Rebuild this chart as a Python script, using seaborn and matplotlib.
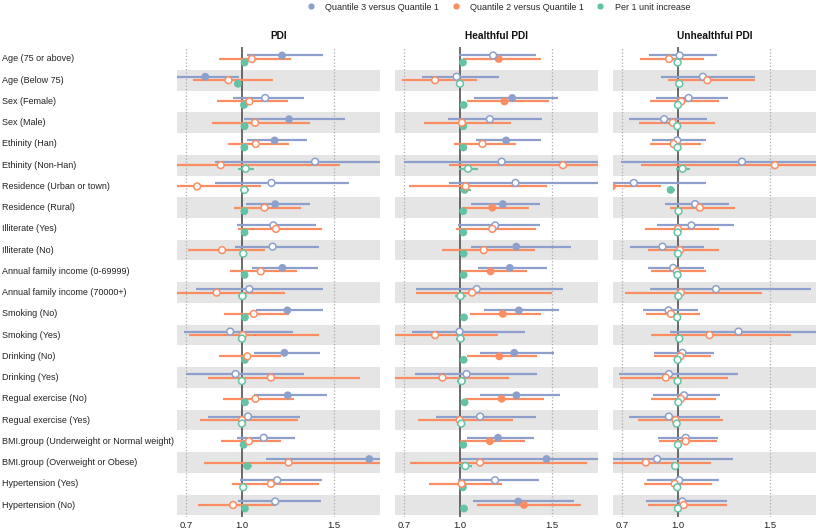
import numpy as np
import pandas as pd
import matplotlib
matplotlib.use('Agg')
import matplotlib.pyplot as plt
import matplotlib.transforms as mtransforms
from matplotlib.lines import Line2D
import seaborn as sns

# row labels (top to bottom)
labels = ['Age (75 or above)', 'Age (Below 75)', 'Sex (Female)', 'Sex (Male)',
          'Ethinity (Han)', 'Ethinity (Non-Han)', 'Residence (Urban or town)',
          'Residence (Rural)', 'Illiterate (Yes)', 'Illiterate (No)',
          'Annual family income (0-69999)', 'Annual family income (70000+)',
          'Smoking (No)', 'Smoking (Yes)', 'Drinking (No)', 'Drinking (Yes)',
          'Regual exercise (No)', 'Regual exercise (Yes)',
          'BMI.group (Underweight or Normal weight)', 'BMI.group (Overweight or Obese)',
          'Hypertension (Yes)', 'Hypertension (No)']
panels = ['PDI', 'Healthful PDI', 'Unhealthful PDI']
series = ['Quantile 3 versus Quantile 1', 'Quantile 2 versus Quantile 1', 'Per 1 unit increase']

# ---- PDI ----
pdi_q3_est = [1.219, 0.803, 1.128, 1.257, 1.179, 1.398, 1.162, 1.182, 1.172, 1.168, 1.221,
              1.042, 1.248, 0.938, 1.232, 0.967, 1.250, 1.035, 1.120, 1.692, 1.193, 1.182]
pdi_q3_lo = [1.031, 0.620, 0.954, 1.015, 1.029, 0.854, 0.854, 1.024, 0.976, 0.962, 1.057,
             0.752, 1.077, 0.690, 1.066, 0.699, 1.068, 0.816, 0.974, 1.133, 0.993, 0.978]
pdi_q3_hi = [1.443, 0.985, 1.338, 1.560, 1.356, 2.000, 1.582, 1.372, 1.405, 1.420, 1.414,
             1.443, 1.443, 1.281, 1.425, 1.339, 1.465, 1.314, 1.292, 2.300, 1.438, 1.432]
pdi_q2_est = [1.055, 0.929, 1.042, 1.073, 1.077, 0.887, 0.759, 1.124, 1.186, 0.894, 1.104,
              0.865, 1.066, 1.007, 1.031, 1.159, 1.075, 1.002, 1.040, 1.255, 1.159, 0.954]
pdi_q2_lo = [0.876, 0.739, 0.867, 0.839, 0.925, 0.600, 0.600, 0.958, 0.980, 0.710, 0.938,
             0.600, 0.905, 0.713, 0.876, 0.818, 0.900, 0.774, 0.889, 0.796, 0.947, 0.766]
pdi_q2_hi = [1.268, 1.170, 1.252, 1.370, 1.255, 1.535, 1.104, 1.321, 1.438, 1.126, 1.301,
             1.235, 1.255, 1.422, 1.214, 1.640, 1.285, 1.307, 1.215, 2.000, 1.420, 1.186]
pdi_u_est = [1.016, 0.980, 1.013, 1.016, 1.015, 1.022, 1.015, 1.015, 1.016, 1.009, 1.016,
             1.005, 1.018, 1.002, 1.018, 1.002, 1.018, 1.002, 1.011, 1.031, 1.009, 1.018]
pdi_u_lo = [1.006, 0.970, 1.004, 1.006, 1.006, 0.980, 0.990, 1.006, 1.006, 0.997, 1.006,
            0.980, 1.007, 0.990, 1.007, 0.990, 1.007, 0.995, 1.002, 1.009, 0.998, 1.007]
pdi_u_hi = [1.026, 0.990, 1.022, 1.026, 1.024, 1.068, 1.040, 1.024, 1.026, 1.021, 1.026,
            1.027, 1.029, 1.014, 1.029, 1.014, 1.029, 1.009, 1.020, 1.058, 1.020, 1.029]

# ---- Healthful PDI ----
hpdi_q3_est = [1.182, 0.984, 1.285, 1.164, 1.252, 1.228, 1.303, 1.234, 1.193, 1.307, 1.272,
               1.093, 1.321, 1.000, 1.296, 1.038, 1.308, 1.111, 1.208, 1.471, 1.192, 1.318]
hpdi_q3_lo = [0.995, 0.797, 1.078, 0.938, 1.088, 0.699, 0.942, 1.062, 0.993, 1.062, 1.099,
              0.766, 1.133, 0.741, 1.113, 0.759, 1.108, 0.870, 1.042, 1.005, 0.991, 1.073]
hpdi_q3_hi = [1.412, 1.215, 1.533, 1.445, 1.443, 2.100, 1.900, 1.436, 1.434, 1.606, 1.476,
              1.562, 1.538, 1.352, 1.509, 1.422, 1.544, 1.416, 1.401, 2.200, 1.432, 1.619]
hpdi_q2_est = [1.212, 0.867, 1.243, 1.013, 1.124, 1.560, 1.033, 1.177, 1.177, 1.131, 1.168,
               1.068, 1.234, 0.867, 1.215, 0.907, 1.228, 1.000, 1.164, 1.111, 1.011, 1.349]
hpdi_q2_lo = [1.018, 0.690, 1.040, 0.805, 0.971, 0.945, 0.726, 1.011, 0.980, 0.907, 1.005,
              0.763, 1.058, 0.600, 1.040, 0.600, 1.036, 0.776, 1.003, 0.730, 0.832, 1.097]
hpdi_q2_hi = [1.442, 1.093, 1.487, 1.276, 1.305, 2.300, 1.471, 1.374, 1.416, 1.410, 1.367,
              1.500, 1.443, 1.208, 1.422, 1.270, 1.456, 1.290, 1.354, 1.693, 1.228, 1.657]
hpdi_u_est = [1.018, 1.002, 1.022, 1.020, 1.020, 1.046, 1.027, 1.020, 1.020, 1.022, 1.022,
              1.005, 1.024, 1.005, 1.022, 1.011, 1.027, 1.009, 1.020, 1.031, 1.018, 1.024]
hpdi_u_lo = [1.008, 0.992, 1.012, 1.010, 1.010, 0.999, 1.003, 1.010, 1.010, 1.012, 1.012,
             0.976, 1.014, 0.978, 1.012, 0.985, 1.015, 0.988, 1.010, 0.998, 1.008, 1.014]
hpdi_u_hi = [1.028, 1.012, 1.032, 1.030, 1.030, 1.099, 1.060, 1.030, 1.030, 1.032, 1.032,
             1.035, 1.034, 1.032, 1.032, 1.037, 1.040, 1.030, 1.030, 1.066, 1.028, 1.034]

# ---- Unhealthful PDI ----
updi_q3_est = [1.011, 1.137, 1.060, 0.927, 0.998, 1.349, 0.763, 1.095, 1.075, 0.918, 0.976,
               1.208, 0.951, 1.330, 1.026, 0.953, 1.035, 0.953, 1.044, 0.889, 1.009, 1.026]
updi_q3_lo = [0.847, 0.912, 0.885, 0.739, 0.863, 0.693, 0.600, 0.934, 0.887, 0.741, 0.838,
              0.849, 0.812, 0.958, 0.874, 0.684, 0.869, 0.737, 0.892, 0.600, 0.834, 0.828]
updi_q3_hi = [1.212, 1.418, 1.272, 1.162, 1.155, 2.100, 1.153, 1.281, 1.305, 1.141, 1.141,
              1.724, 1.113, 1.900, 1.197, 1.328, 1.228, 1.232, 1.217, 1.299, 1.223, 1.266]
updi_q2_est = [0.954, 1.161, 1.020, 0.974, 0.978, 1.527, 0.645, 1.120, 1.002, 1.013, 0.996,
               1.018, 0.964, 1.173, 1.015, 0.936, 1.018, 0.989, 1.044, 0.828, 0.984, 1.033]
updi_q2_lo = [0.799, 0.947, 0.852, 0.790, 0.849, 0.801, 0.500, 0.960, 0.823, 0.838, 0.858,
              0.714, 0.827, 0.856, 0.870, 0.688, 0.858, 0.785, 0.898, 0.600, 0.816, 0.841]
updi_q2_hi = [1.144, 1.422, 1.224, 1.200, 1.126, 2.200, 0.911, 1.312, 1.223, 1.223, 1.155,
              1.456, 1.122, 1.613, 1.182, 1.274, 1.208, 1.245, 1.212, 1.179, 1.184, 1.266]
updi_u_est = [1.000, 1.009, 1.002, 0.998, 1.000, 1.027, 0.962, 1.005, 1.000, 1.002, 1.000,
              1.004, 0.998, 1.009, 1.000, 1.000, 1.004, 0.995, 1.002, 0.987, 0.998, 1.002]
updi_u_lo = [0.990, 0.998, 0.990, 0.988, 0.990, 0.993, 0.949, 0.994, 0.990, 0.990, 0.990,
             0.986, 0.988, 0.991, 0.990, 0.980, 0.993, 0.984, 0.991, 0.965, 0.988, 0.991]
updi_u_hi = [1.010, 1.020, 1.014, 1.008, 1.010, 1.068, 0.987, 1.016, 1.010, 1.014, 1.010,
             1.022, 1.008, 1.027, 1.010, 1.020, 1.015, 1.006, 1.013, 1.009, 1.008, 1.013]

panel_data = {
    'PDI': [(pdi_q3_est, pdi_q3_lo, pdi_q3_hi), (pdi_q2_est, pdi_q2_lo, pdi_q2_hi),
            (pdi_u_est, pdi_u_lo, pdi_u_hi)],
    'Healthful PDI': [(hpdi_q3_est, hpdi_q3_lo, hpdi_q3_hi), (hpdi_q2_est, hpdi_q2_lo, hpdi_q2_hi),
                      (hpdi_u_est, hpdi_u_lo, hpdi_u_hi)],
    'Unhealthful PDI': [(updi_q3_est, updi_q3_lo, updi_q3_hi), (updi_q2_est, updi_q2_lo, updi_q2_hi),
                        (updi_u_est, updi_u_lo, updi_u_hi)],
}

sns.set_theme(style='white')
plt.rcParams['font.family'] = ['Liberation Sans', 'DejaVu Sans']

colors = dict(zip(series, ['#8da0cb', '#fc8d62', '#66c2a5']))
offsets = dict(zip(series, [-0.165, 0.0, 0.165]))

rows = []
for panel in panels:
    for s, (est, lo, hi) in zip(series, panel_data[panel]):
        for i, lab in enumerate(labels):
            rows.append(dict(panel=panel, series=s, label=lab, row=i,
                             est=est[i], lo=lo[i], hi=hi[i]))
df = pd.DataFrame(rows)
df['y'] = df['row'] + df['series'].map(offsets)
df['sig'] = (df['lo'] > 1) | (df['hi'] < 1)

W, H = 817, 532
fig = plt.figure(figsize=(W / 100, H / 100), dpi=100)
lefts = [177, 395, 613]
n = len(labels)

for k, panel in enumerate(panels):
    ax = fig.add_axes([lefts[k] / W, 15 / H, 203 / W, 470 / H])
    for r in range(1, n, 2):
        ax.axhspan(r - 0.487, r + 0.487, color='#e5e5e5', lw=0, zorder=0)
    for v in (0.7, 1.5):
        ax.axvline(v, color='#aaaaaa', ls=':', lw=0.9, zorder=1)
    ax.axvline(1.0, color='#444444', lw=1.1, zorder=2)

    sub = df[df['panel'] == panel]
    for s in series:
        ss = sub[sub['series'] == s]
        ax.hlines(ss['y'], ss['lo'], ss['hi'], color=colors[s], lw=1.6, zorder=3)

    filled = sub[sub['sig']]
    sns.scatterplot(data=filled, x='est', y='y', hue='series', hue_order=series,
                    palette=colors, s=32, linewidth=0, legend=False, ax=ax, zorder=4)
    opened = sub[~sub['sig']]
    sns.scatterplot(data=opened, x='est', y='y', hue='series', hue_order=series,
                    palette=colors, s=24, linewidth=1.1, legend=False, ax=ax, zorder=4)
    coll = ax.collections[-1]
    coll.set_edgecolors(coll.get_facecolors())
    coll.set_facecolors('white')

    ax.set_xlim(0.65, 1.75)
    ax.set_ylim(n - 1 + 0.565, -0.565)
    ax.set_xticks([0.7, 1.0, 1.5])
    ax.set_xticklabels(['0.7', '1.0', '1.5'], fontsize=6.8, color='#222222')
    ax.set_yticks([])
    ax.set_xlabel('')
    ax.set_ylabel('')
    ax.tick_params(axis='x', length=0, pad=3)
    for sp in ax.spines.values():
        sp.set_visible(False)
    ax.set_title(panel, fontweight='bold', fontsize=7.3, pad=6, color='#111111')

    if k == 0:
        trans = mtransforms.blended_transform_factory(fig.transFigure, ax.transData)
        for i, lab in enumerate(labels):
            ax.text(2 / W, i, lab, transform=trans, ha='left', va='center',
                    fontsize=6.5, color='#222222')

handles = [Line2D([], [], marker='o', ls='', color=colors[s], markersize=3.5) for s in series]
fig.legend(handles, series, loc='center', bbox_to_anchor=(0.607, 1 - 7 / H), ncol=3,
           frameon=False, fontsize=6.5, handletextpad=0.6, columnspacing=0.8)

fig.savefig('out.png', dpi=100)
